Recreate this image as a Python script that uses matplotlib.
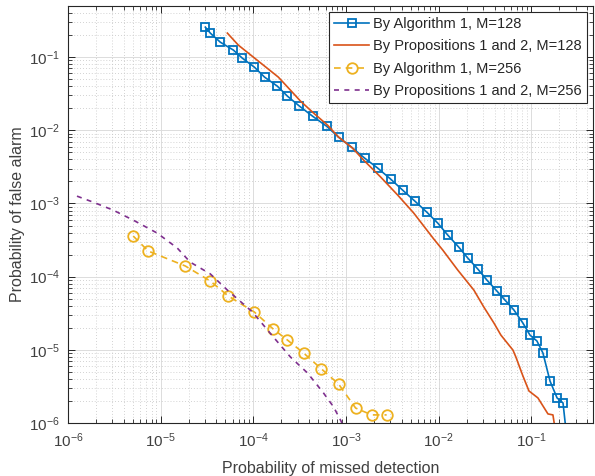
import matplotlib
matplotlib.use("Agg")
import matplotlib.pyplot as plt
from matplotlib.ticker import LogLocator, NullFormatter

plt.rcParams['font.family'] = ['Liberation Sans', 'DejaVu Sans']
plt.rcParams['mathtext.default'] = 'regular'

# ---- data ----
alg128_pm = [3.03e-5, 3.43e-5, 4.40e-5, 6.08e-5, 7.60e-5, 1.026e-4, 1.32e-4, 1.81e-4,
             2.33e-4, 3.14e-4, 4.35e-4, 6.15e-4, 8.30e-4, 1.145e-3, 1.585e-3, 2.19e-3,
             3.03e-3, 4.08e-3, 5.51e-3, 7.41e-3, 9.75e-3, 0.0125, 0.01644, 0.0206,
             0.0264, 0.0330, 0.0424, 0.0518, 0.0647, 0.0809, 0.0964, 0.1146,
             0.133, 0.1585, 0.189, 0.219, 0.242]
alg128_pf = [0.257, 0.213, 0.160, 0.125, 0.0968, 0.0729, 0.0533, 0.0402,
             0.0293, 0.0214, 0.0156, 0.0114, 0.00807, 0.00589, 0.00417, 0.00305,
             0.00215, 0.00152, 0.00108, 7.64e-4, 5.40e-4, 3.70e-4, 2.53e-4, 1.79e-4,
             1.27e-4, 9.0e-5, 6.36e-5, 4.79e-5, 3.50e-5, 2.32e-5, 1.59e-5, 1.32e-5,
             9.04e-6, 3.75e-6, 2.20e-6, 1.88e-6, 5.9e-7]

prop128_pm = [5.24e-5, 6.88e-5, 1.0e-4, 1.86e-4, 2.51e-4, 3.22e-4, 4.46e-4, 6.31e-4,
              8.30e-4, 1.175e-3, 1.545e-3, 2.36e-3, 3.61e-3, 5.37e-3, 8.83e-3, 0.01104,
              0.01603, 0.0239, 0.0306, 0.0394, 0.0468, 0.0631, 0.0679, 0.0809,
              0.0940, 0.1175, 0.1507, 0.1705, 0.184]
prop128_pf = [0.213, 0.146, 0.1, 0.0533, 0.0354, 0.0251, 0.0172, 0.01178,
              0.00807, 0.00571, 0.00392, 0.00230, 0.00130, 7.40e-4, 3.27e-4, 2.31e-4,
              1.23e-4, 6.56e-5, 3.85e-5, 2.32e-5, 1.59e-5, 9.93e-6, 7.98e-6, 4.39e-6,
              2.74e-6, 2.20e-6, 1.33e-6, 1.29e-6, 6.9e-7]

alg256_pm = [5.05e-6, 7.33e-6, 1.84e-5, 3.43e-5, 5.37e-5, 1.026e-4, 1.64e-4, 2.33e-4,
             3.48e-4, 5.43e-4, 8.30e-4, 1.268e-3, 1.89e-3, 2.74e-3]
alg256_pf = [3.59e-4, 2.24e-4, 1.40e-4, 8.71e-5, 5.43e-5, 3.28e-5, 1.92e-5, 1.36e-5,
             9.04e-6, 5.47e-6, 3.41e-6, 1.60e-6, 1.29e-6, 1.29e-6]

prop256_pm = [1.25e-6, 1.86e-6, 3.06e-6, 5.05e-6, 9.16e-6, 1.51e-5, 2.08e-5, 3.43e-5,
              5.24e-5, 9.8e-5, 1.64e-4, 2.51e-4, 3.84e-4, 5.71e-4, 7.33e-4, 8.93e-4, 9.40e-4]
prop256_pf = [1.26e-3, 1.045e-3, 8.13e-4, 5.93e-4, 3.94e-4, 2.46e-4, 1.58e-4, 1.09e-4,
              6.56e-5, 3.28e-5, 1.50e-5, 7.98e-6, 4.82e-6, 2.57e-6, 1.66e-6, 1.03e-6, 6.9e-7]

labels = ["By Algorithm 1, M=128", "By Propositions 1 and 2, M=128",
          "By Algorithm 1, M=256", "By Propositions 1 and 2, M=256"]

c_blue, c_orange, c_yellow, c_purple = '#0072BD', '#D95319', '#EDB120', '#7E2F8E'
txt = '#262626'

fig = plt.figure(figsize=(5.95, 4.76), dpi=100)
ax = fig.add_axes([68 / 595, 53 / 476, (593 - 68) / 595, (423 - 6) / 476])

ax.plot(alg128_pm, alg128_pf, '-', color=c_blue, lw=1.2, marker='s', ms=5.8,
        mfc='none', mec=c_blue, mew=1.3, label=labels[0])
ax.plot(prop128_pm, prop128_pf, '-', color=c_orange, lw=1.2, label=labels[1])
ax.plot(alg256_pm, alg256_pf, '--', color=c_yellow, lw=1.2, marker='o', ms=7.6,
        mfc='none', mec=c_yellow, mew=1.3, dashes=(4, 3), label=labels[2])
ax.plot(prop256_pm, prop256_pf, '--', color=c_purple, lw=1.2, dashes=(3, 3.2),
        label=labels[3])

ax.set_xscale('log')
ax.set_yscale('log')
ax.set_xlim(1e-6, 10 ** -0.336)
ax.set_ylim(1e-6, 0.5)

ax.xaxis.set_major_locator(LogLocator(base=10, numticks=20))
ax.yaxis.set_major_locator(LogLocator(base=10, numticks=20))
ax.xaxis.set_minor_locator(LogLocator(base=10, subs=range(2, 10), numticks=100))
ax.yaxis.set_minor_locator(LogLocator(base=10, subs=range(2, 10), numticks=100))
ax.xaxis.set_minor_formatter(NullFormatter())
ax.yaxis.set_minor_formatter(NullFormatter())

ax.grid(True, which='major', color='#dcdcdc', lw=0.7, ls='-')
ax.grid(True, which='minor', color='#c4c4c4', lw=0.6, ls=(0, (1, 2.5)))
ax.set_axisbelow(True)

ax.tick_params(which='both', direction='in', top=True, right=True, colors=txt,
               labelcolor='#404040', labelsize=11)
ax.tick_params(which='major', length=5, width=0.7, pad=6)
ax.tick_params(which='minor', length=3, width=0.6)
for s in ax.spines.values():
    s.set_color(txt)
    s.set_linewidth(0.8)

ax.set_xlabel('Probability of missed detection', fontsize=11.5, color='#404040', labelpad=8)
ax.set_ylabel('Probability of false alarm', fontsize=11.5, color='#404040', labelpad=3)

leg = ax.legend(loc='upper right', fontsize=10.5, handlelength=2.4, borderpad=0.35,
                labelspacing=0.58, handletextpad=0.3, fancybox=False, framealpha=1,
                edgecolor=txt, borderaxespad=0.4)
leg.get_frame().set_linewidth(0.8)
for t in leg.get_texts():
    t.set_color('#262626')

fig.savefig('out.png', dpi=100)
